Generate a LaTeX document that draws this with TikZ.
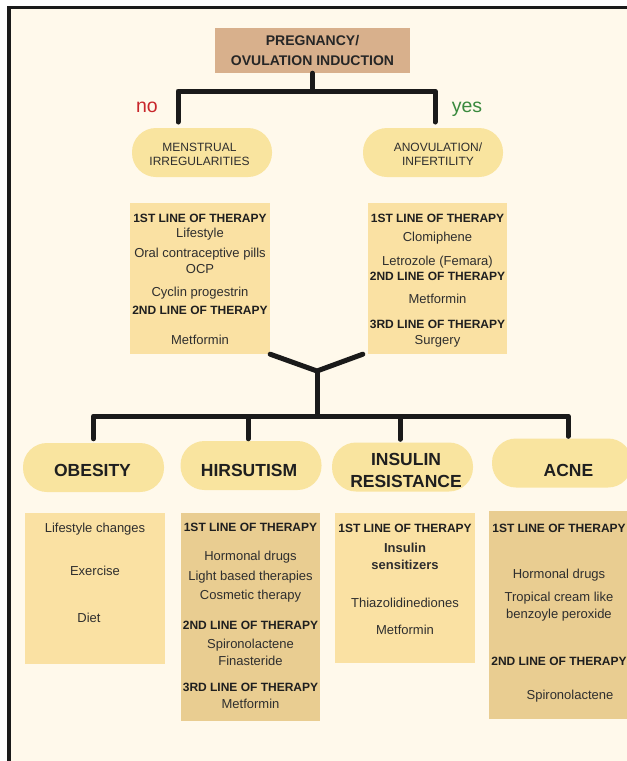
\documentclass[tikz,border=0pt]{standalone}
\usepackage{fontspec}
\setmainfont{Liberation Sans}
\usetikzlibrary{positioning}

\definecolor{bgcream}{HTML}{FFF9EB}
\definecolor{topfill}{HTML}{D8B08C}
\definecolor{pillfill}{HTML}{F9E49F}
\definecolor{boxlight}{HTML}{FAE1A3}
\definecolor{boxdark}{HTML}{E9CD91}
\definecolor{linkblack}{HTML}{1A1A1A}
\definecolor{txtgray}{HTML}{2E2E2E}
\definecolor{nored}{HTML}{C8262B}
\definecolor{yesgreen}{HTML}{3A8A3E}

\newcommand{\hdr}[1]{{\fontsize{12}{16}\selectfont\bfseries\color{black!88}#1}}

\begin{document}
\begin{tikzpicture}[x=1pt, y=-1pt,
        every node/.style={align=center, inner sep=0pt, text=txtgray},
        top/.style={fill=topfill, minimum width=195pt, minimum height=45pt,
            font=\fontsize{14}{19.3}\selectfont\bfseries, text=black!85},
        pill/.style={fill=pillfill, rounded corners=24pt, minimum width=141pt, minimum height=49pt},
        smallcap/.style={font=\fontsize{12}{14}\selectfont},
        bigcap/.style={font=\fontsize{17.5}{22}\selectfont\bfseries, text=black!88},
        therapy/.style={fill=#1, minimum width=140pt},
        list/.style={font=\fontsize{13}{16}\selectfont},
        tree/.style={draw=linkblack, line width=5pt, line cap=round, line join=round}]

        \useasboundingbox (0,0) rectangle (627,761);

        % background and frame
        \fill[white] (0,0) rectangle (627,761);
        \fill[bgcream] (9,8) rectangle (627,761);
        \draw[linkblack, line width=3.5pt] (9,761) -- (9,7.5) -- (627,7.5);

        % question at the top
        \node[top] (preg) at (312.5,50.5) {PREGNANCY/\\OVULATION INDUCTION};

        \node[pill, minimum width=140pt] (mens) at (202,152.5) {};
        \node[smallcap] (menslbl) at (199.5,154.3) {MENSTRUAL\\IRREGULARITIES};
        \node[pill, minimum width=140pt] (anov) at (433,152.5) {};
        \node[smallcap] (anovlbl) at (438,154.3) {ANOVULATION/\\INFERTILITY};

        \coordinate (split)  at (312.5,91);
        \coordinate (noend)  at (178,122);
        \coordinate (yesend) at (435,122);
        \draw[tree] (preg.south) -- (split);
        \draw[tree] (noend) |- (split) -| (yesend);

        \node[anchor=base, font=\fontsize{19.5}{20}\selectfont, text=nored]    (no)  at (147,112.5) {no};
        \node[anchor=base, font=\fontsize{19.5}{20}\selectfont, text=yesgreen] (yes) at (467,112.5) {yes};

        % therapy lists of the two branches
        \node[therapy=boxlight, minimum height=151pt] (lbox) at (200,278.5) {};
        \node[list, below=11.5pt of lbox.north] (ltext)
            {\hdr{1ST LINE OF THERAPY}\\[-1pt]
             Lifestyle\\[3.5pt]
             Oral contraceptive pills\\
             OCP\\[7pt]
             Cyclin progestrin\\[2pt]
             \hdr{2ND LINE OF THERAPY}\\[14pt]
             Metformin};

        \node[therapy=boxlight, minimum width=139pt, minimum height=151pt] (rbox) at (437.5,278.5) {};
        \node[list, below=11.5pt of rbox.north] (rtext)
            {\hdr{1ST LINE OF THERAPY}\\[2.5pt]
             Clomiphene\\[8pt]
             Letrozole (Femara)\\[-1pt]
             \hdr{2ND LINE OF THERAPY}\\[7.5pt]
             Metformin\\[8.5pt]
             \hdr{3RD LINE OF THERAPY}\\
             Surgery};

        % both branches meet again
        \coordinate (join) at (317,371);
        \coordinate (bar)  at (317,416);
        \draw[tree] (lbox.south east) -- (join) -- ([xshift=-5pt]rbox.south west);
        \draw[tree] (join) -- (bar);

        % four clinical features
        \node[pill] (obpill)    at (93.5,467.5) {};
        \node[pill] (hirpill)   at (251,465.5) {};
        \node[pill] (inspill)   at (402.5,467) {};
        \node[pill, minimum width=140pt] (acnepill) at (562,463) {};

        \draw[tree] ([yshift=4pt]obpill.north) |- (bar) -| ([xshift=6pt,yshift=2pt]acnepill.north);
        \draw[tree] ([xshift=-3pt,yshift=2pt]hirpill.north) |- (bar);
        \draw[tree] ([xshift=-2.5pt,yshift=3pt]inspill.north) |- (bar);

        \node[bigcap] (oblbl)   at (92.5,470)  {OBESITY};
        \node[bigcap] (hirlbl)  at (249,470)   {HIRSUTISM};
        \node[bigcap] (inslbl)  at (406,470)   {INSULIN\\RESISTANCE};
        \node[bigcap] (acnelbl) at (568.5,470.5) {ACNE};

        % their treatments
        \node[therapy=boxlight, minimum height=151pt] (obbox) at (95,588.5) {};
        \node[list, below=9.7pt of obbox.north] (obtext)
            {Lifestyle changes\\[27.3pt]
             Exercise\hspace*{12pt}\\[31.3pt]
             Diet\hspace*{12pt}};

        \node[therapy=boxdark, minimum width=139pt, minimum height=208pt] (hirbox) at (250.5,617) {};
        \node[list, below=10.5pt of hirbox.north] (hirtext)
            {\hdr{1ST LINE OF THERAPY}\\[12.3pt]
             Hormonal drugs\\[4pt]
             Light based therapies\\[3pt]
             Cosmetic therapy\\[14pt]
             \hdr{2ND LINE OF THERAPY}\\[3.3pt]
             Spironolactene\\[0.7pt]
             Finasteride\\[10.7pt]
             \hdr{3RD LINE OF THERAPY}\\[0.6pt]
             Metformin};

        \node[therapy=boxlight, minimum height=150pt] (insbox) at (405,588) {};
        \node[list, below=11pt of insbox.north] (instext)
            {\hdr{1ST LINE OF THERAPY}\\[4pt]
             \textbf{Insulin}\hspace*{14pt}\\[0.7pt]
             \textbf{sensitizers}\hspace*{14pt}\\[22.3pt]
             Thiazolidinediones\\[10.7pt]
             Metformin};

        \node[therapy=boxdark, minimum height=208pt] (acnebox) at (559,615) {};
        \node[list, below=13pt of acnebox.north] (acnetext)
            {\hdr{1ST LINE OF THERAPY}\\[29.7pt]
             Hormonal drugs\\[7.3pt]
             Tropical cream like\\[0.7pt]
             benzoyle peroxide\\[31.7pt]
             \hdr{2ND LINE OF THERAPY}\\[17.3pt]
             \hspace*{22pt}Spironolactene};
    \end{tikzpicture}
\end{document}
